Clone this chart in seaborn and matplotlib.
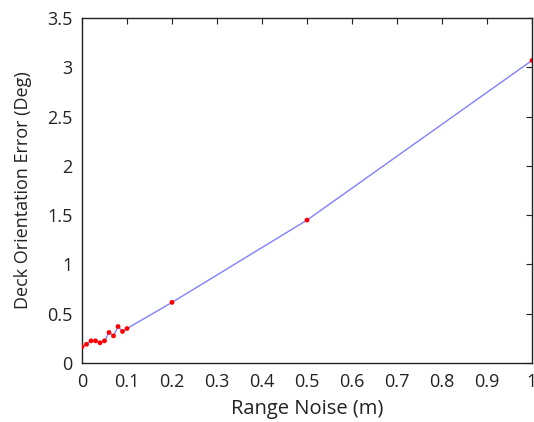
import matplotlib
matplotlib.use("Agg")
import matplotlib.pyplot as plt
import seaborn as sns
import pandas as pd

sns.set_theme(style="white")
plt.rcParams['font.family'] = ['Open Sans', 'DejaVu Sans']

noise = [0, 0.01, 0.02, 0.03, 0.04, 0.05, 0.06, 0.07, 0.08, 0.09, 0.1, 0.2, 0.5, 1.0]
error = [0.165, 0.19, 0.225, 0.225, 0.205, 0.225, 0.31, 0.275, 0.37, 0.32, 0.35, 0.615, 1.45, 3.07]
xticks = [0, 0.1, 0.2, 0.3, 0.4, 0.5, 0.6, 0.7, 0.8, 0.9, 1]
xticklabels = ["0", "0.1", "0.2", "0.3", "0.4", "0.5", "0.6", "0.7", "0.8", "0.9", "1"]
yticks = [0, 0.5, 1, 1.5, 2, 2.5, 3, 3.5]
yticklabels = ["0", "0.5", "1", "1.5", "2", "2.5", "3", "3.5"]

df = pd.DataFrame({"noise": noise, "error": error})

fig = plt.figure(figsize=(5.34, 4.22), dpi=100)
ax = fig.add_axes([0.1536, 0.1398, 0.8427, 0.8175])
sns.lineplot(data=df, x="noise", y="error", ax=ax, color="#8080ff", linewidth=1.0)
sns.scatterplot(data=df, x="noise", y="error", ax=ax, color="red", s=12, edgecolor="none", zorder=3)

ax.set_xlim(0, 1)
ax.set_ylim(0, 3.5)
ax.set_xticks(xticks)
ax.set_xticklabels(xticklabels)
ax.set_yticks(yticks)
ax.set_yticklabels(yticklabels)
ax.tick_params(direction="in", length=4, width=0.8, top=True, right=True,
               labelsize=13, colors="#222222")
ax.tick_params(axis="x", pad=7)
ax.tick_params(axis="y", pad=7)
for s in ax.spines.values():
    s.set_color("#222222")
    s.set_linewidth(1.0)
ax.set_xlabel("Range Noise (m)", fontsize=14.5, color="#222222", labelpad=6)
ax.set_ylabel("Deck Orientation Error (Deg)", fontsize=13, color="#222222", labelpad=11)
fig.savefig("out.png", dpi=100)
